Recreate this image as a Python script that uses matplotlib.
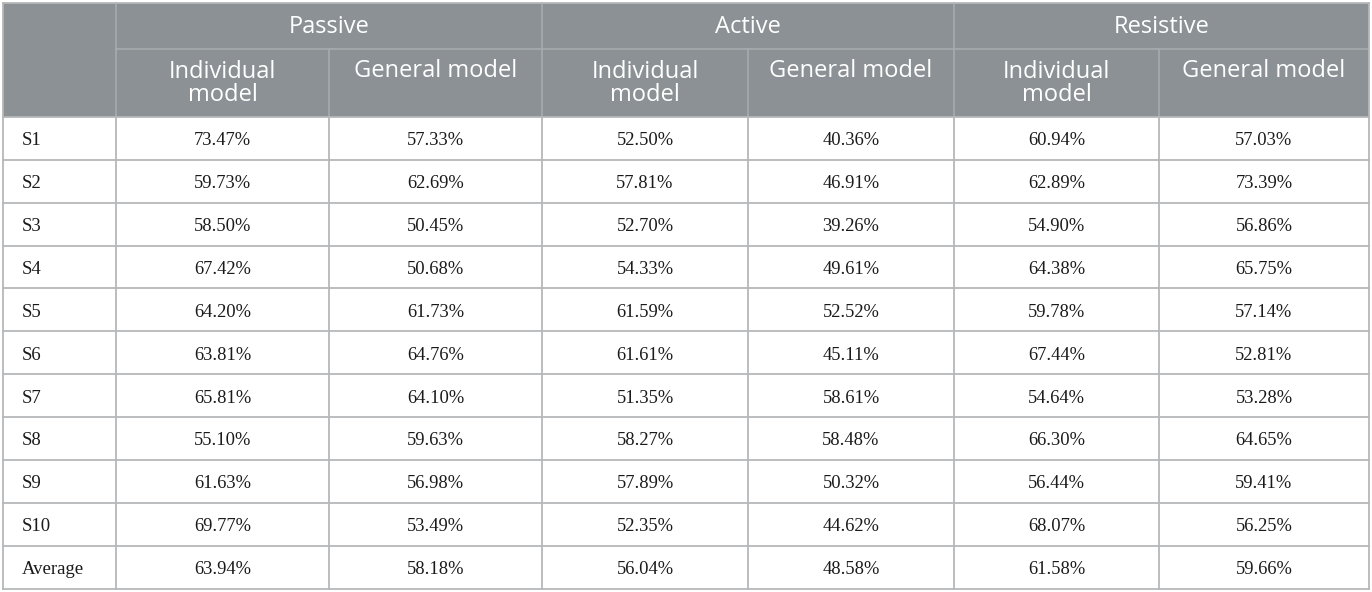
import matplotlib
matplotlib.use("Agg")
import matplotlib.pyplot as plt
from matplotlib.patches import Rectangle

groups = ["Passive", "Active", "Resistive"]
subheads = ["Individual\nmodel", "General model"]
subjects = ["S1", "S2", "S3", "S4", "S5", "S6", "S7", "S8", "S9", "S10", "Average"]

passive_ind = [73.47, 59.73, 58.50, 67.42, 64.20, 63.81, 65.81, 55.10, 61.63, 69.77, 63.94]
passive_gen = [57.33, 62.69, 50.45, 50.68, 61.73, 64.76, 64.10, 59.63, 56.98, 53.49, 58.18]
active_ind = [52.50, 57.81, 52.70, 54.33, 61.59, 61.61, 51.35, 58.27, 57.89, 52.35, 56.04]
active_gen = [40.36, 46.91, 39.26, 49.61, 52.52, 45.11, 58.61, 58.48, 50.32, 44.62, 48.58]
resist_ind = [60.94, 62.89, 54.90, 64.38, 59.78, 67.44, 54.64, 66.30, 56.44, 68.07, 61.58]
resist_gen = [57.03, 73.39, 56.86, 65.75, 57.14, 52.81, 53.28, 64.65, 59.41, 56.25, 59.66]

columns = [passive_ind, passive_gen, active_ind, active_gen, resist_ind, resist_gen]

# layout in pixels
col_x = [3, 116, 329, 542, 748, 954, 1159, 1369]
top, mid, head_bot, bottom = 3, 49, 117, 588.5
row_h = (bottom - head_bot) / len(subjects)

head_fill = "#8b9194"
head_line = "#a6acae"
grid = "#b5b8b9"
head_font = "Open Sans"
body_font = "Liberation Serif"

fig = plt.figure(figsize=(13.72, 5.92), dpi=100)
ax = fig.add_axes([0, 0, 1, 1])
ax.set_xlim(0, 1372)
ax.set_ylim(592, 0)
ax.axis("off")

ax.add_patch(Rectangle((col_x[0], top), col_x[-1] - col_x[0], head_bot - top,
                       facecolor=head_fill, edgecolor="none"))

# header lines
ax.plot([col_x[1], col_x[-1]], [mid, mid], color=head_line, lw=1.2)
for i, x in enumerate(col_x[1:-1]):
    j = i + 1
    y0 = top if j % 2 == 1 else mid
    ax.plot([x, x], [y0, head_bot], color=head_line, lw=1.2)

# group headers
for g, name in enumerate(groups):
    xc = (col_x[1 + 2 * g] + col_x[3 + 2 * g]) / 2
    ax.text(xc, 27, name, ha="center", va="center",
            color="white", fontsize=17, family=head_font)
    for s, sub in enumerate(subheads):
        x0, x1 = col_x[1 + 2 * g + s], col_x[2 + 2 * g + s]
        yc = 83.5 if "\n" in sub else 71
        ax.text((x0 + x1) / 2, yc, sub, ha="center", va="center",
                color="white", fontsize=17, family=head_font, linespacing=0.9)

# body grid
for r in range(len(subjects) + 1):
    y = head_bot + r * row_h
    ax.plot([col_x[0], col_x[-1]], [y, y], color=grid, lw=1.3)
for x in col_x:
    y0 = top if x in (col_x[0], col_x[-1]) else head_bot
    ax.plot([x, x], [y0, bottom], color=grid, lw=1.3)
ax.plot([col_x[0], col_x[-1]], [top, top], color=grid, lw=1.3)

for r, subj in enumerate(subjects):
    yc = head_bot + (r + 0.5) * row_h + 2.5
    ax.text(col_x[0] + 19, yc, subj, ha="left", va="center",
            fontsize=13.5, family=body_font, color="#1a1a1a")
    for c, vals in enumerate(columns):
        xc = (col_x[c + 1] + col_x[c + 2]) / 2
        ax.text(xc, yc, f"{vals[r]:.2f}%", ha="center", va="center",
                fontsize=13.3, family=body_font, color="#1a1a1a")

fig.savefig("out.png", dpi=100)
